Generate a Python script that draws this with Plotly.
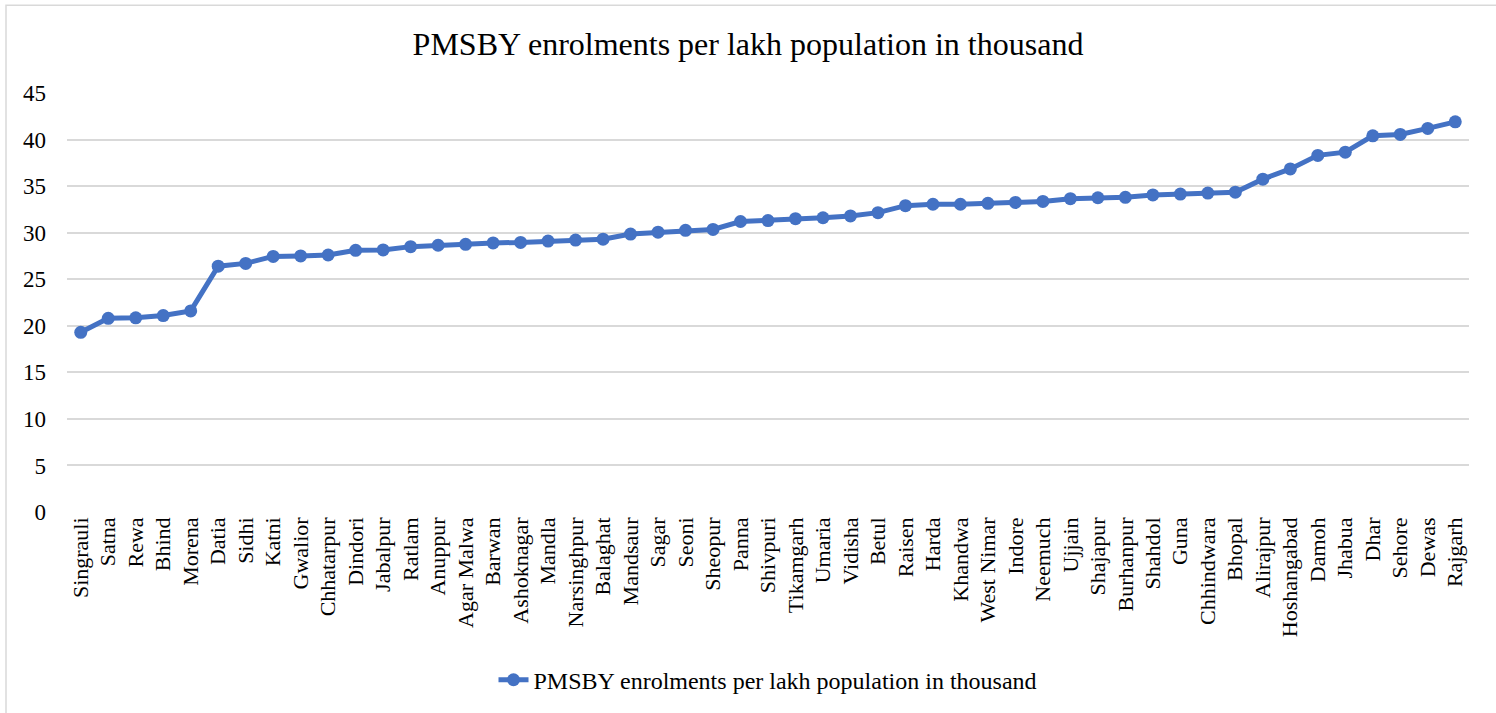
import plotly.graph_objects as go

districts = ["Singrauli", "Satna", "Rewa", "Bhind", "Morena", "Datia", "Sidhi", "Katni",
             "Gwalior", "Chhatarpur", "Dindori", "Jabalpur", "Ratlam", "Anuppur", "Agar Malwa",
             "Barwan", "Ashoknagar", "Mandla", "Narsinghpur", "Balaghat", "Mandsaur", "Sagar",
             "Seoni", "Sheopur", "Panna", "Shivpuri", "Tikamgarh", "Umaria", "Vidisha", "Betul",
             "Raisen", "Harda", "Khandwa", "West Nimar", "Indore", "Neemuch", "Ujjain",
             "Shajapur", "Burhanpur", "Shahdol", "Guna", "Chhindwara", "Bhopal", "Alirajpur",
             "Hoshangabad", "Damoh", "Jhabua", "Dhar", "Sehore", "Dewas", "Rajgarh"]

enrolments = [19.3, 20.8, 20.85, 21.1, 21.6, 26.4, 26.7, 27.45, 27.5, 27.6, 28.1, 28.15,
              28.5, 28.65, 28.75, 28.9, 28.95, 29.1, 29.2, 29.3, 29.85, 30.05, 30.25, 30.35,
              31.2, 31.3, 31.5, 31.6, 31.8, 32.15, 32.9, 33.05, 33.05, 33.15, 33.25, 33.35,
              33.65, 33.75, 33.8, 34.05, 34.15, 34.25, 34.35, 35.75, 36.85, 38.3, 38.65, 40.4,
              40.55, 41.2, 41.9]

y_ticks = [0, 5, 10, 15, 20, 25, 30, 35, 40, 45]

series_name = "PMSBY enrolments per lakh population in thousand"
FONT = "Liberation Serif, Times New Roman, serif"
BLUE = "#4472C4"
GRID = "#d9d9d9"

fig = go.Figure()
fig.add_trace(go.Scatter(
    x=districts, y=enrolments, mode="lines+markers", name=series_name,
    line=dict(color=BLUE, width=5),
    marker=dict(color=BLUE, size=13),
))

fig.update_layout(
    width=1496, height=713,
    margin=dict(l=67, r=27, t=93, b=200),
    paper_bgcolor="white", plot_bgcolor="white",
    font=dict(family=FONT, color="#000000", size=21),
    title=dict(text=series_name, x=0.5, xanchor="center", y=1 - 44 / 713, yanchor="middle",
               font=dict(family=FONT, size=32, color="#000000")),
    showlegend=True,
    legend=dict(orientation="h", x=0.5, xanchor="center", y=-0.398, yanchor="middle",
                font=dict(family=FONT, size=24, color="#000000"), bgcolor="rgba(0,0,0,0)"),
    xaxis=dict(type="category", range=[-0.5, len(districts) - 0.5], tickangle=-90,
               showgrid=False, showline=False, zeroline=False, ticks="",
               tickfont=dict(family=FONT, size=22, color="#000000")),
    yaxis=dict(range=[0, 45], tickvals=y_ticks, showgrid=True, gridcolor=GRID, gridwidth=1.5,
               zeroline=False, showline=False, ticks="", ticklabelstandoff=20,
               tickfont=dict(family=FONT, size=23, color="#000000")),
    shapes=[dict(type="rect", xref="paper", yref="paper",
                 x0=(6 - 67) / 1402, x1=1.2, y0=-1.0, y1=(513 - 5) / 420,
                 line=dict(color=GRID, width=1.5), fillcolor="rgba(0,0,0,0)", layer="below")],
)

fig.write_html("out.html")
